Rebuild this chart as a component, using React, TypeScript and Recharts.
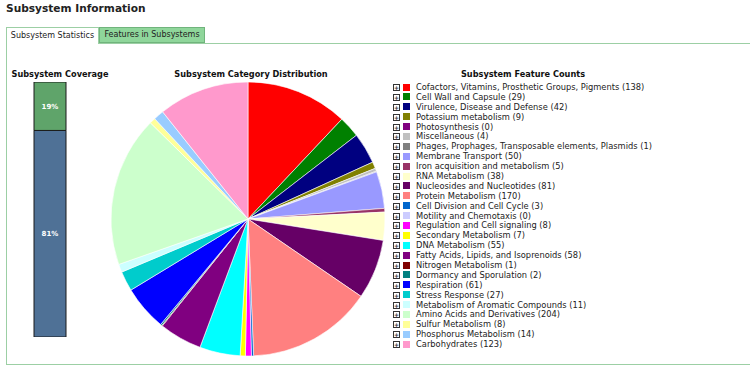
import React from "react";
import { Bar, BarChart, Cell, LabelList, Pie, PieChart, XAxis, YAxis } from "recharts";

// Subsystem categories, in the order the pie runs clockwise from 12 o'clock
const CATEGORIES = [
  "Cofactors, Vitamins, Prosthetic Groups, Pigments",
  "Cell Wall and Capsule",
  "Virulence, Disease and Defense",
  "Potassium metabolism",
  "Photosynthesis",
  "Miscellaneous",
  "Phages, Prophages, Transposable elements, Plasmids",
  "Membrane Transport",
  "Iron acquisition and metabolism",
  "RNA Metabolism",
  "Nucleosides and Nucleotides",
  "Protein Metabolism",
  "Cell Division and Cell Cycle",
  "Motility and Chemotaxis",
  "Regulation and Cell signaling",
  "Secondary Metabolism",
  "DNA Metabolism",
  "Fatty Acids, Lipids, and Isoprenoids",
  "Nitrogen Metabolism",
  "Dormancy and Sporulation",
  "Respiration",
  "Stress Response",
  "Metabolism of Aromatic Compounds",
  "Amino Acids and Derivatives",
  "Sulfur Metabolism",
  "Phosphorus Metabolism",
  "Carbohydrates",
];

const FEATURE_COUNTS = [
  138, 29, 42, 9, 0, 4, 1, 50, 5, 38, 81, 170, 3, 0, 8, 7, 55, 58, 1, 2, 61, 27, 11, 204, 8, 14, 123,
];

const CATEGORY_COLORS = [
  "#ff0000", "#008000", "#000080", "#808000", "#800080", "#c0c0c0", "#808080",
  "#9999ff", "#993366", "#ffffcc", "#660066", "#ff8080", "#0066cc", "#ccccff",
  "#ff00ff", "#ffff00", "#00ffff", "#800080", "#800000", "#008080", "#0000ff",
  "#00cccc", "#ccffff", "#ccffcc", "#ffff99", "#99ccff", "#ff99cc",
];

// coverage: share of features in subsystems vs not
const COVERAGE_IN = [19];
const COVERAGE_OUT = [81];

const FONT = "'DejaVu Sans', Verdana, sans-serif";
const GREEN_BORDER = "#9ccfa4";

const pieData = CATEGORIES.map((name, i) => ({
  name,
  value: FEATURE_COUNTS[i],
  color: CATEGORY_COLORS[i],
})).filter((d) => d.value > 0);

const coverageData = [{ name: "coverage", out: COVERAGE_OUT[0], inSub: COVERAGE_IN[0] }];

function ExpandIcon() {
  return (
    <span
      style={{
        position: "absolute",
        left: 0,
        top: 2,
        width: 5,
        height: 5,
        border: "1px solid #333",
        fontSize: 6,
        lineHeight: "5px",
        textAlign: "center",
        color: "#333",
        fontWeight: "bold",
      }}
    >
      +
    </span>
  );
}

export default function App() {
  const heading: React.CSSProperties = {
    position: "absolute",
    fontWeight: "bold",
    fontSize: 8.2,
    color: "#111",
    whiteSpace: "nowrap",
    transform: "translateX(-50%)",
  };

  return (
    <div
      style={{
        position: "absolute",
        left: 0,
        top: 0,
        width: 750,
        height: 369,
        background: "#fff",
        fontFamily: FONT,
        overflow: "hidden",
      }}
    >
      <div style={{ position: "absolute", left: 6, top: 2, fontSize: 10.6, fontWeight: "bold", color: "#222" }}>
        Subsystem Information
      </div>

      {/* tabs */}
      <div
        style={{
          position: "absolute",
          left: 6,
          top: 27,
          width: 93,
          height: 16,
          background: "#fff",
          border: `1px solid ${GREEN_BORDER}`,
          borderBottom: "none",
          fontSize: 8,
          lineHeight: "16px",
          textAlign: "center",
          color: "#222",
          boxSizing: "border-box",
        }}
      >
        Subsystem Statistics
      </div>
      <div
        style={{
          position: "absolute",
          left: 99,
          top: 27,
          width: 106,
          height: 16,
          background: "#8fd69b",
          border: "1px solid #70b47c",
          fontSize: 8,
          lineHeight: "14px",
          textAlign: "center",
          color: "#222",
          boxSizing: "border-box",
        }}
      >
        Features in Subsystems
      </div>

      {/* panel */}
      <div
        style={{
          position: "absolute",
          left: 6,
          top: 43,
          width: 760,
          height: 322,
          borderLeft: `1px solid ${GREEN_BORDER}`,
          borderTop: `1px solid ${GREEN_BORDER}`,
          borderBottom: `1px solid ${GREEN_BORDER}`,
          boxSizing: "border-box",
        }}
      />
      <div style={{ position: "absolute", left: 7, top: 43, width: 91, height: 1, background: "#fff" }} />

      {/* coverage */}
      <div style={{ ...heading, left: 60, top: 69 }}>Subsystem Coverage</div>
      <div style={{ position: "absolute", left: 18, top: 82 }}>
        <BarChart width={64} height={255} data={coverageData} margin={{ top: 0, right: 0, bottom: 0, left: 0 }}>
          <XAxis dataKey="name" hide />
          <YAxis hide domain={[0, 100]} />
          <Bar dataKey="out" stackId="c" fill="#4f7196" stroke="#1a1a1a" strokeWidth={1} barSize={32} isAnimationActive={false}>
            <LabelList
              dataKey="out"
              position="center"
              formatter={(v: any) => `${v}%`}
              style={{ fill: "#fff", fontSize: 7, fontWeight: "bold", fontFamily: FONT }}
            />
          </Bar>
          <Bar dataKey="inSub" stackId="c" fill="#5fa46a" stroke="#1a1a1a" strokeWidth={1} barSize={32} isAnimationActive={false}>
            <LabelList
              dataKey="inSub"
              position="center"
              formatter={(v: any) => `${v}%`}
              style={{ fill: "#fff", fontSize: 7, fontWeight: "bold", fontFamily: FONT }}
            />
          </Bar>
        </BarChart>
      </div>

      {/* pie */}
      <div style={{ ...heading, left: 251, top: 69 }}>Subsystem Category Distribution</div>
      <div style={{ position: "absolute", left: 98, top: 69 }}>
        <PieChart width={300} height={300} margin={{ top: 0, right: 0, bottom: 0, left: 0 }}>
          <Pie
            data={pieData}
            dataKey="value"
            nameKey="name"
            cx={150}
            cy={150}
            outerRadius={137}
            startAngle={90}
            endAngle={-270}
            stroke="#fff"
            strokeWidth={0.6}
            isAnimationActive={false}
          >
            {pieData.map((d) => (
              <Cell key={d.name} fill={d.color} />
            ))}
          </Pie>
        </PieChart>
      </div>

      {/* legend */}
      <div style={{ ...heading, left: 523, top: 69 }}>Subsystem Feature Counts</div>
      <div style={{ position: "absolute", left: 393, top: 82 }}>
        {CATEGORIES.map((name, i) => (
          <div
            key={name}
            style={{
              position: "relative",
              height: 9.9,
              fontSize: 8.3,
              lineHeight: "10px",
              color: "#222",
              paddingLeft: 23,
              whiteSpace: "nowrap",
            }}
          >
            <ExpandIcon />
            <span
              style={{
                position: "absolute",
                left: 10,
                top: 1.5,
                width: 7,
                height: 7,
                background: CATEGORY_COLORS[i],
              }}
            />
            {name} ({FEATURE_COUNTS[i]})
          </div>
        ))}
      </div>
    </div>
  );
}
